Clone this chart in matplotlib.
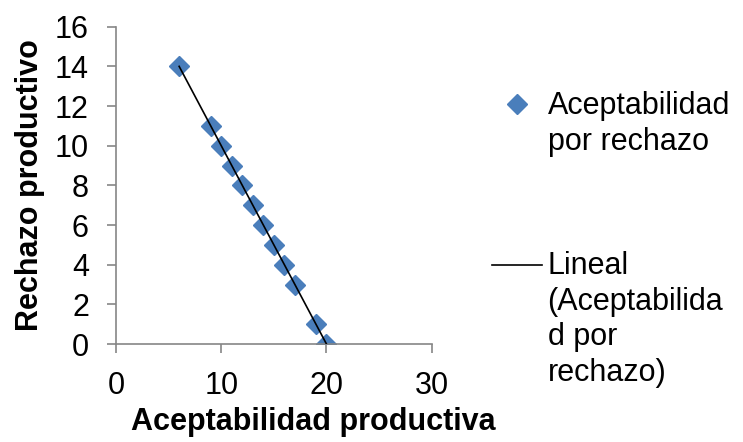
import numpy as np
import matplotlib
matplotlib.use('Agg')
import matplotlib.pyplot as plt
from matplotlib.legend_handler import HandlerLine2D
from matplotlib.lines import Line2D
import matplotlib.transforms as mtransforms

# data
aceptabilidad = [6, 9, 10, 11, 12, 13, 14, 15, 16, 17, 19, 20]
rechazo = [14, 11, 10, 9, 8, 7, 6, 5, 4, 3, 1, 0]

x_ticks = [0, 10, 20, 30]
y_ticks = [0, 2, 4, 6, 8, 10, 12, 14, 16]

serie_label = "Aceptabilidad\npor rechazo"
trend_label = "Lineal\n(Aceptabilida\nd por\nrechazo)"

BLUE = '#4a7ebb'
GREY = '#868686'
FS = 22
LINESP = 1.24


class ShiftedHandler(HandlerLine2D):
    # put the legend handle on the first line of a multi-line label
    def __init__(self, shift_pt, **kw):
        super().__init__(**kw)
        self.shift_pt = shift_pt

    def create_artists(self, legend, orig_handle, xdescent, ydescent,
                       width, height, fontsize, trans):
        trans = mtransforms.Affine2D().translate(0, self.shift_pt) + trans
        return super().create_artists(legend, orig_handle, xdescent, ydescent,
                                       width, height, fontsize, trans)


def main():
    plt.rcParams['font.family'] = ['Liberation Sans', 'DejaVu Sans']

    fig = plt.figure(figsize=(7.43, 4.42), dpi=100)
    ax = fig.add_axes([116 / 743, 1 - 344 / 442, 315.7 / 743, 317.3 / 442])

    x = np.array(aceptabilidad, dtype=float)
    y = np.array(rechazo, dtype=float)

    ax.plot(x, y, linestyle='none', marker='D', markersize=10,
            color=BLUE, markeredgecolor=BLUE, zorder=2)

    # linear trend line over the data range
    m, b = np.polyfit(x, y, 1)
    xf = np.array([x.min(), x.max()])
    ax.plot(xf, m * xf + b, color='black', linewidth=1.2, zorder=3)

    ax.set_xlim(0, 30)
    ax.set_ylim(0, 16)
    ax.set_xticks(x_ticks)
    ax.set_yticks(y_ticks)

    for side in ['top', 'right']:
        ax.spines[side].set_visible(False)
    for side in ['left', 'bottom']:
        ax.spines[side].set_color(GREY)
        ax.spines[side].set_linewidth(1.2)
    ax.tick_params(axis='both', direction='out', length=6.5, width=1.2,
                   color=GREY, labelsize=FS, pad=13, labelcolor='black')

    ax.set_xlabel("Aceptabilidad productiva", fontsize=FS, fontweight='bold')
    ax.set_ylabel("Rechazo productivo", fontsize=FS, fontweight='bold')
    ax.xaxis.set_label_coords(0.626, -0.2)
    ax.yaxis.set_label_coords(-0.225, 0.5)

    h_marker = Line2D([], [], linestyle='none', marker='D', markersize=10,
                      color=BLUE)
    h_line = Line2D([], [], color='black', linewidth=1.2)

    pitch_pt = 35 * 0.72
    leg = fig.legend([h_marker, h_line], [serie_label, trend_label],
                     loc='upper left', bbox_to_anchor=(492 / 743, 1 - 91 / 442),
                     frameon=False, borderpad=0, borderaxespad=0,
                     handlelength=1.65, handletextpad=0.17, labelspacing=3.1,
                     prop={'size': FS},
                     handler_map={h_marker: ShiftedHandler(0.5 * pitch_pt + 2),
                                  h_line: ShiftedHandler(1.5 * pitch_pt + 2)})
    for t in leg.get_texts():
        t.set_linespacing(LINESP)

    fig.savefig('out.png', dpi=100)
    plt.close(fig)


if __name__ == '__main__':
    main()
